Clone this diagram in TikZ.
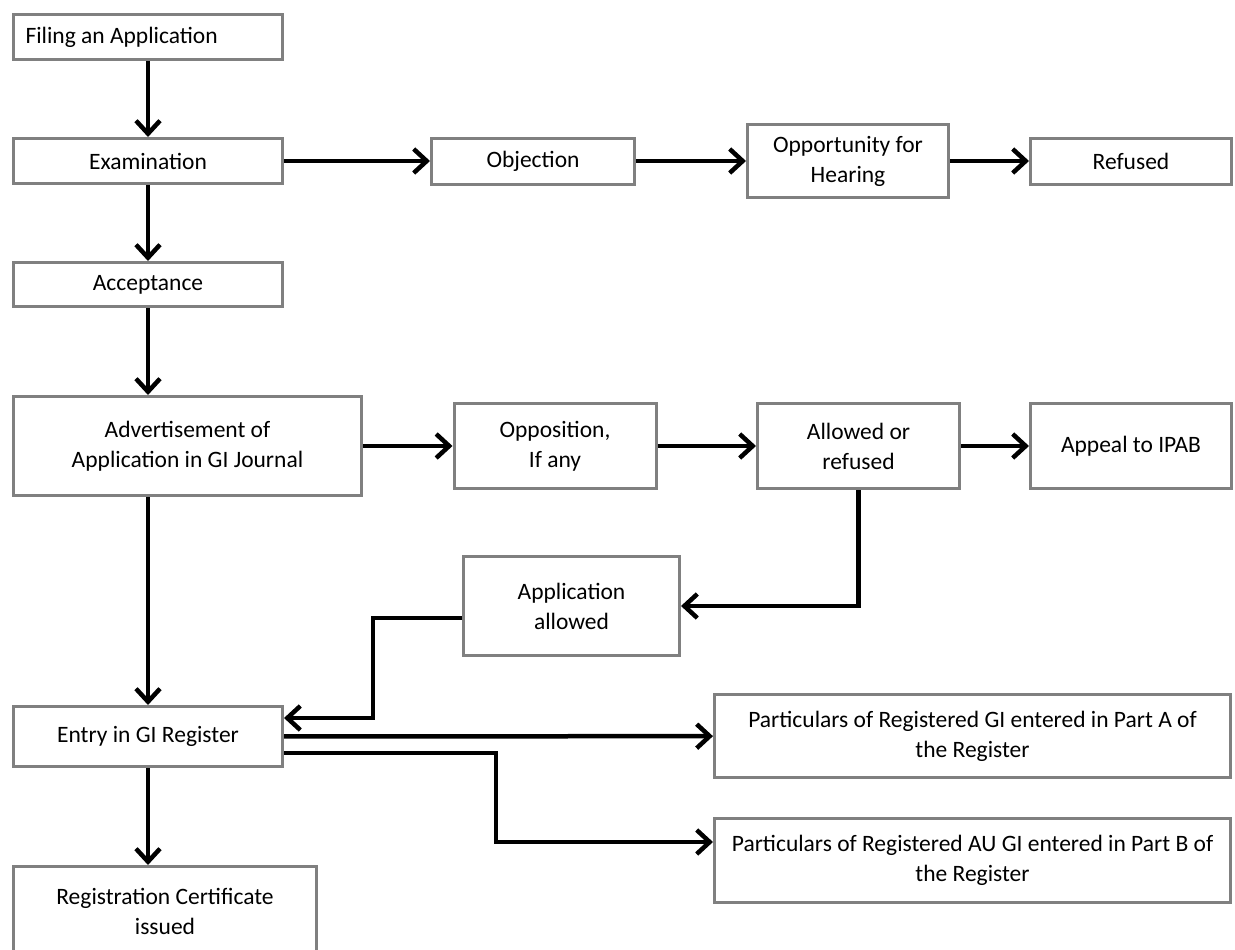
\documentclass[tikz,border=0pt]{standalone}
\usepackage{fontspec}
\setmainfont{Carlito}
\usetikzlibrary{arrows.meta}
\definecolor{boxgray}{RGB}{128,128,128}

\begin{document}
\begin{tikzpicture}[x=1pt, y=-1pt, every node/.style={font=\fontsize{23.5}{30}\selectfont},
		stage/.style={draw=boxgray, line width=3pt, fill=white, align=center, inner sep=2pt},
		flow/.style={line width=4.5pt, -{Straight Barb[length=13pt,width=24pt]}}]
				\clip (0,0) rectangle (1235,950);
				\node [stage, minimum width=269pt, minimum height=45pt, text width=245pt, align=flush left, inner xsep=12pt] (file) at (148,37) {Filing an Application};
				\node [stage, minimum width=269pt, minimum height=45pt] (exam) at (148,161) {Examination};
				\node [stage, minimum width=269pt, minimum height=44pt] (accept) at (148,284.5) {Acceptance};
				\node [stage, minimum width=348pt, minimum height=99pt] (advert) at (187.5,446) {Advertisement of\\Application in GI Journal};
				\node [stage, minimum width=269pt, minimum height=60pt] (entry) at (148,736.5) {Entry in GI Register};
				\node [stage, minimum width=303pt, minimum height=90pt] (cert) at (165,911.5) {Registration Certificate\\issued};
				\node [stage, minimum width=203pt, minimum height=46pt] (object) at (533,161) {Objection};
				\node [stage, minimum width=201pt, minimum height=73pt] (hearing) at (848,161) {Opportunity for\\Hearing};
				\node [stage, minimum width=201pt, minimum height=46pt] (refused) at (1131,161) {Refused};
				\node [stage, minimum width=202pt, minimum height=85pt] (oppos) at (555,446) {Opposition,\\If any};
				\node [stage, minimum width=202pt, minimum height=85pt] (allowed) at (858.5,446) {Allowed or\\refused};
				\node [stage, minimum width=201pt, minimum height=85pt] (appeal) at (1131,446) {Appeal to IPAB};
				\node [stage, minimum width=216pt, minimum height=99pt] (appall) at (571.5,606) {Application\\allowed};
				\node [stage, minimum width=516pt, minimum height=83pt] (partA) at (972.5,736) {Particulars of Registered GI entered in Part A of\\the Register};
				\node [stage, minimum width=516pt, minimum height=84pt] (partB) at (972.5,860.5) {Particulars of Registered AU GI entered in Part B of\\the Register};
				\draw [flow] (file) -- (exam);
				\draw [flow] (exam) -- (accept);
				\draw [flow] (accept.south) -- (accept.south |- advert.north);
				\draw [flow] (advert.south -| entry) -- (entry.north);
				\draw [flow] (entry) -- (cert.north -| entry);
				\draw [flow] (exam) -- (object);
				\draw [flow] (object) -- (hearing);
				\draw [flow] (hearing) -- (refused);
				\draw [flow] (advert) -- (oppos);
				\draw [flow] (oppos) -- (allowed);
				\draw [flow] (allowed) -- (appeal);
				\draw [flow] (allowed.south) |- (appall.east);
				\draw [flow] ([yshift=-12pt]appall.west) -- ++(-89,0) |- ([yshift=18.5pt]entry.east);
				\draw [flow] (entry) -- (partA);
				\draw [flow] ([yshift=-16.5pt]entry.east) -- ++(212,0) |- ([yshift=18.5pt]partB.west);
			\end{tikzpicture}
\end{document}
